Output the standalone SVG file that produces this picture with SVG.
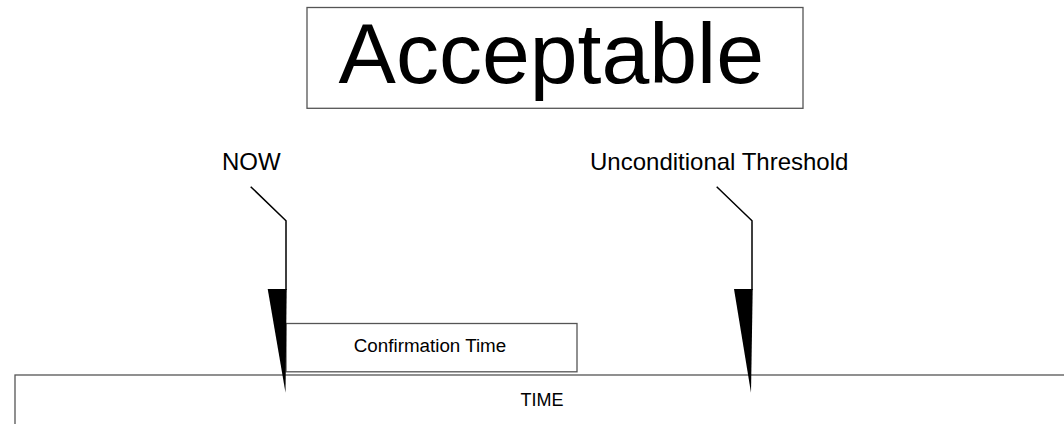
<svg xmlns="http://www.w3.org/2000/svg" width="1064" height="424" viewBox="0 0 1064 424">
<style>
.box{fill:#fff;stroke:#555;stroke-width:1.3}
.lead{fill:none;stroke:#000;stroke-width:1.5}
.wedge{fill:#000;stroke:none}
text{font-family:"Liberation Sans",Arial,sans-serif;fill:#000;text-anchor:middle}
</style>
<rect width="1064" height="424" fill="#fff"/>
<g id="time">
<rect class="box" x="15" y="375" width="1060" height="60"/>
<text x="542" y="405.7" font-size="18">TIME</text>
</g>
<g id="confirmation">
<rect class="box" x="286" y="323.5" width="291" height="48.3"/>
<text x="430" y="352.3" font-size="18.8">Confirmation Time</text>
</g>
<g id="acceptable">
<rect class="box" x="307" y="7.5" width="496" height="100.8"/>
<text x="551.3" y="83.3" font-size="86">Acceptable</text>
</g>
<g id="now">
<text x="251.3" y="170" font-size="24">NOW</text>
</g>
<g id="threshold">
<text x="719.2" y="170" font-size="24">Unconditional Threshold</text>
</g>
<g id="connectors">
<polyline class="lead" points="250.7,186.7 286,220.7 286,290"/>
<polygon class="wedge" points="267.7,289 286.7,289 285.5,392.7"/>
<polyline class="lead" points="716.7,186.7 752,220.7 752,290"/>
<polygon class="wedge" points="734,289 752.7,289 751,392.7"/>
</g>
</svg>
